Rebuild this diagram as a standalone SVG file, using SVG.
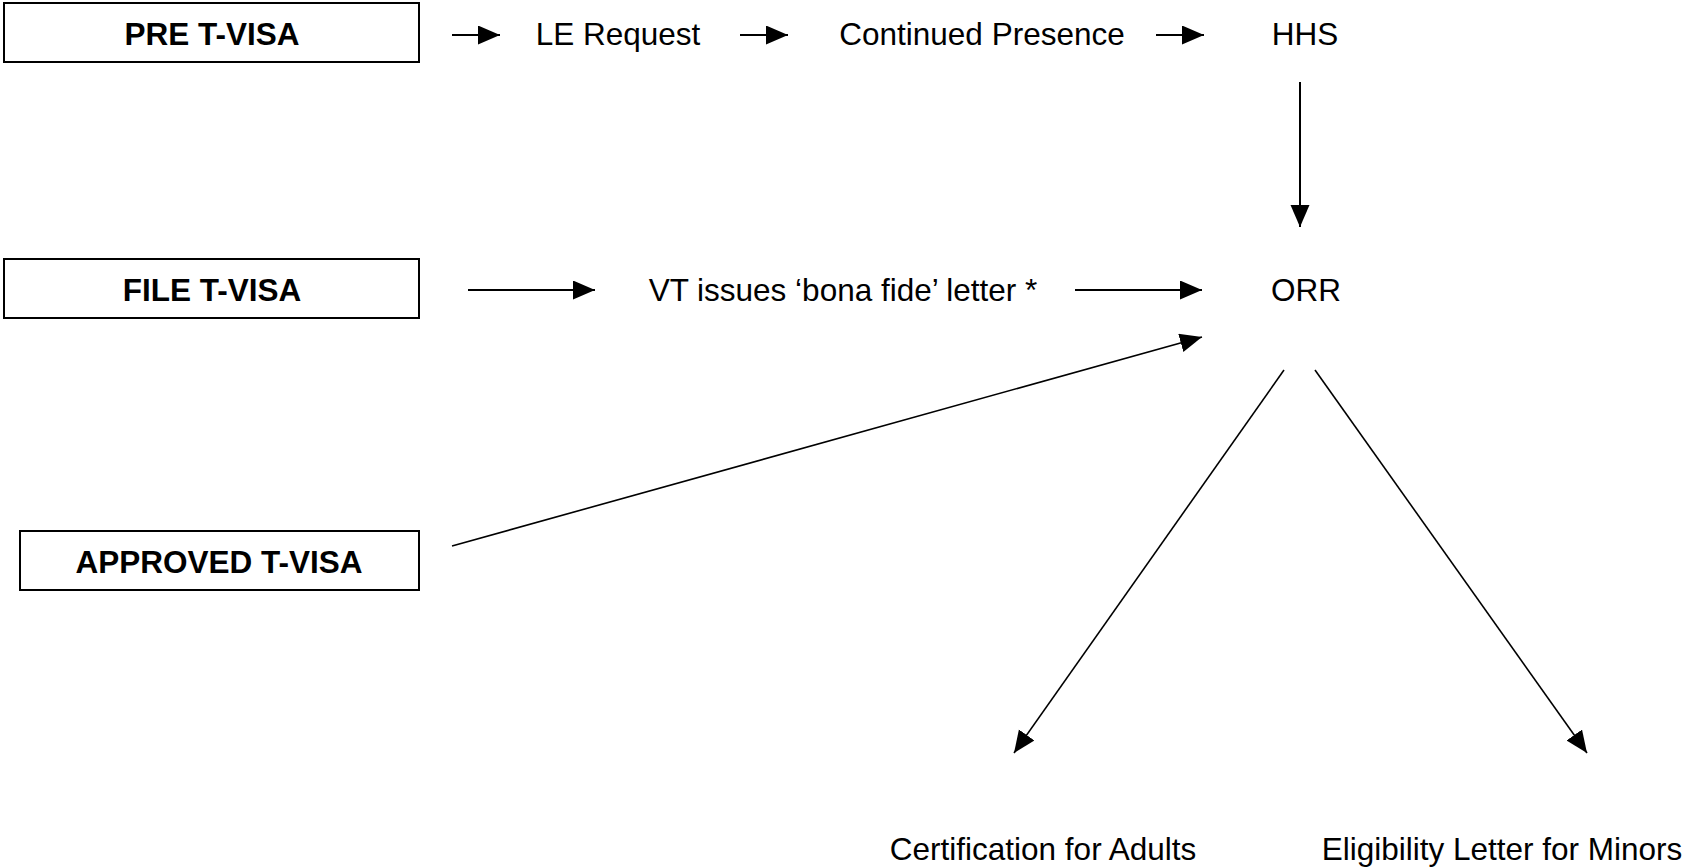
<svg xmlns="http://www.w3.org/2000/svg" width="1686" height="868" viewBox="0 0 1686 868">
<style>
.box{fill:#fff;stroke:#000;stroke-width:2}
.b{font-family:"Liberation Sans",Arial,sans-serif;font-weight:bold;font-size:31.5px;fill:#000;text-anchor:middle}
.t{font-family:"Liberation Sans",Arial,sans-serif;font-size:31.5px;fill:#000;text-anchor:middle}
.c{stroke:#000;stroke-width:2;fill:none;marker-end:url(#ah)}
.d{stroke:#000;stroke-width:1.6;fill:none;marker-end:url(#ah)}
</style>
<defs>
<marker id="ah" markerUnits="userSpaceOnUse" markerWidth="24" markerHeight="20" refX="22" refY="9.5" orient="auto" viewBox="0 0 24 20">
<path d="M0,0 L22,9.5 L0,19 z" fill="#000"/>
</marker>
</defs>
<rect width="1686" height="868" fill="#fff"/>
<g id="connectors">
<line class="c" x1="452" y1="35" x2="500" y2="35"/>
<line class="c" x1="740" y1="35" x2="788" y2="35"/>
<line class="c" x1="1156" y1="35" x2="1204" y2="35"/>
<line class="c" x1="1300" y1="82" x2="1300" y2="227"/>
<line class="c" x1="468" y1="290" x2="595" y2="290"/>
<line class="c" x1="1075" y1="290" x2="1202" y2="290"/>
<line class="d" x1="452" y1="546" x2="1202" y2="337"/>
<line class="d" x1="1284" y1="370" x2="1014" y2="753"/>
<line class="d" x1="1315" y1="370" x2="1587" y2="753"/>
</g>
<g id="pre-t-visa"><rect class="box" x="4" y="3" width="415" height="59"/><text class="b" x="212" y="45">PRE T-VISA</text></g>
<g id="le-request"><text class="t" x="618" y="45">LE Request</text></g>
<g id="continued-presence"><text class="t" x="982" y="45">Continued Presence</text></g>
<g id="hhs"><text class="t" x="1305" y="45">HHS</text></g>
<g id="file-t-visa"><rect class="box" x="4" y="259" width="415" height="59"/><text class="b" x="212" y="301">FILE T-VISA</text></g>
<g id="vt-letter"><text class="t" x="843" y="301">VT issues ‘bona fide’ letter *</text></g>
<g id="orr"><text class="t" x="1306" y="301">ORR</text></g>
<g id="approved-t-visa"><rect class="box" x="20" y="531" width="399" height="59"/><text class="b" x="219" y="573">APPROVED T-VISA</text></g>
<g id="cert-adults"><text class="t" x="1043" y="860">Certification for Adults</text></g>
<g id="elig-minors"><text class="t" x="1502" y="860">Eligibility Letter for Minors</text></g>
</svg>
